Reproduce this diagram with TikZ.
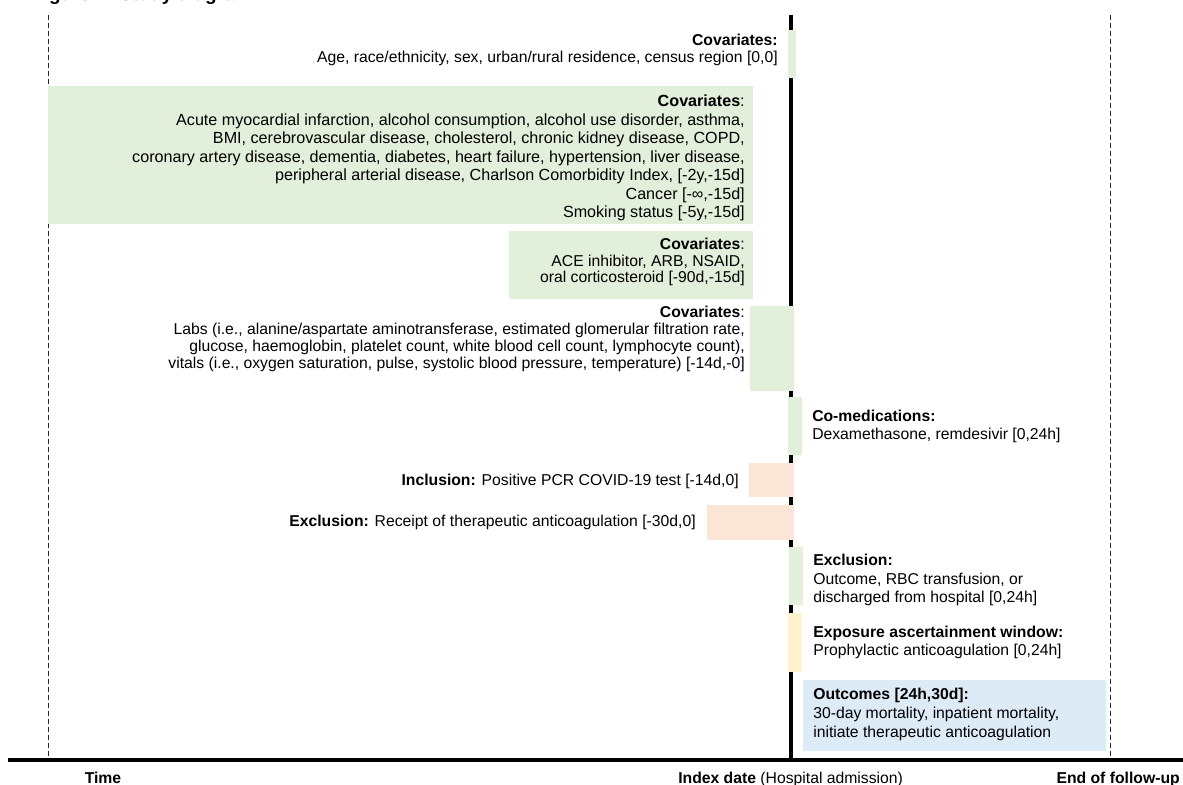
\documentclass[tikz,border=0pt]{standalone}
\usepackage{fontspec}
\setmainfont{Liberation Sans}
\definecolor{cgreen}{HTML}{E2EFDA}
\definecolor{corange}{HTML}{FBE5D6}
\definecolor{cyellow}{HTML}{FFF2CC}
\definecolor{cblue}{HTML}{DDEBF7}
\begin{document}
\begin{tikzpicture}[x=0.75pt,y=-0.75pt,
  lbl/.style={inner sep=0pt, font=\fontsize{11.8}{12.6}\selectfont},
  rlbl/.style={lbl, anchor=east, align=right},
  llbl/.style={inner sep=0pt, font=\fontsize{11.8}{14.1}\selectfont, anchor=west, align=left},
  dline/.style={draw=black!85, line width=0.75pt, dash pattern=on 3.5pt off 2.5pt},
  idxline/.style={draw=black, line width=2.3pt},
  axisline/.style={draw=black, line width=3pt}]
\useasboundingbox (0,0) rectangle (1183,785);

% title fragment (cut off at the top)
\node[anchor=base west, inner sep=0pt, font=\fontsize{14.25}{17}\selectfont\bfseries] (title) at (32,0.5) {Figure 1: Study diagram};

% vertical reference lines
\coordinate (ltop) at (48,15);  \coordinate (lbot) at (48,760);
\coordinate (rtop) at (1110,15); \coordinate (rbot) at (1110,760);
\coordinate (itop) at (791,15); \coordinate (ibot) at (791,760);
\draw[dline] (ltop) -- (lbot);
\draw[dline] (rtop) -- (rbot);
\draw[idxline] (itop) -- (ibot);

% bars and boxes
\fill[cgreen] (788,30) rectangle (796,78);
\fill[cgreen] (48,86) rectangle (753,224);
\fill[cgreen] (509,231) rectangle (753,299);
\fill[cgreen] (750,306) rectangle (794,391);
\fill[cgreen] (788,397) rectangle (802,455);
\fill[corange] (749,463) rectangle (794,497);
\fill[corange] (707,505) rectangle (794,540);
\fill[cgreen] (789,547) rectangle (803,605);
\fill[cyellow] (788,613) rectangle (802,672);
\fill[cblue] (803,680) rectangle (1106,751);

% texts
\node[rlbl, font=\fontsize{11.8}{12.3}\selectfont] (cov1) at (778,50) {\textbf{Covariates:}\\Age, race/ethnicity, sex, urban/rural residence, census region [0,0]};
\node[rlbl, font=\fontsize{12.1}{13.9}\selectfont] (cov2) at (745,158) {\textbf{Covariates}:\\Acute myocardial infarction, alcohol consumption, alcohol use disorder, asthma,\\BMI, cerebrovascular disease, cholesterol, chronic kidney disease, COPD,\\coronary artery disease, dementia, diabetes, heart failure, hypertension, liver disease,\\peripheral arterial disease, Charlson Comorbidity Index, [-2y,-15d]\\Cancer [-∞,-15d]\\Smoking status [-5y,-15d]};
\node[rlbl] (cov3) at (745,262) {\textbf{Covariates}:\\ACE inhibitor, ARB, NSAID,\\oral corticosteroid [-90d,-15d]};
\node[rlbl] (cov4) at (745,339) {\textbf{Covariates}:\\Labs (i.e., alanine/aspartate aminotransferase, estimated glomerular filtration rate,\\glucose, haemoglobin, platelet count, white blood cell count, lymphocyte count),\\vitals (i.e., oxygen saturation, pulse, systolic blood pressure, temperature) [-14d,-0]};
\node[llbl] (comed) at (812,426.5) {\textbf{Co-medications:}\\Dexamethasone, remdesivir [0,24h]};
\node[rlbl] (incl) at (739,481) {\textbf{Inclusion:} Positive PCR COVID-19 test [-14d,0]};
\node[rlbl] (excl1) at (696,522) {\textbf{Exclusion:} Receipt of therapeutic anticoagulation [-30d,0]};
\node[llbl] (excl2) at (813,580) {\textbf{Exclusion:}\\Outcome, RBC transfusion, or\\discharged from hospital [0,24h]};
\node[llbl] (expo) at (813,642.5) {\textbf{Exposure ascertainment window:}\\Prophylactic anticoagulation [0,24h]};
\node[llbl] (outc) at (813,714.5) {\textbf{Outcomes [24h,30d]:}\\30-day mortality, inpatient mortality,\\initiate therapeutic anticoagulation};

% time axis
\coordinate (axl) at (8,760); \coordinate (axr) at (1183,760);
\draw[axisline] (axl) -- (axr);
\node[lbl, anchor=base] (time) at (103,783) {\textbf{Time}};
\node[lbl, anchor=base west] (idx) at (678,783) {\textbf{Index date} (Hospital admission)};
\node[lbl, anchor=base east] (eof) at (1180,783) {\textbf{End of follow-up}};
\end{tikzpicture}
\end{document}
